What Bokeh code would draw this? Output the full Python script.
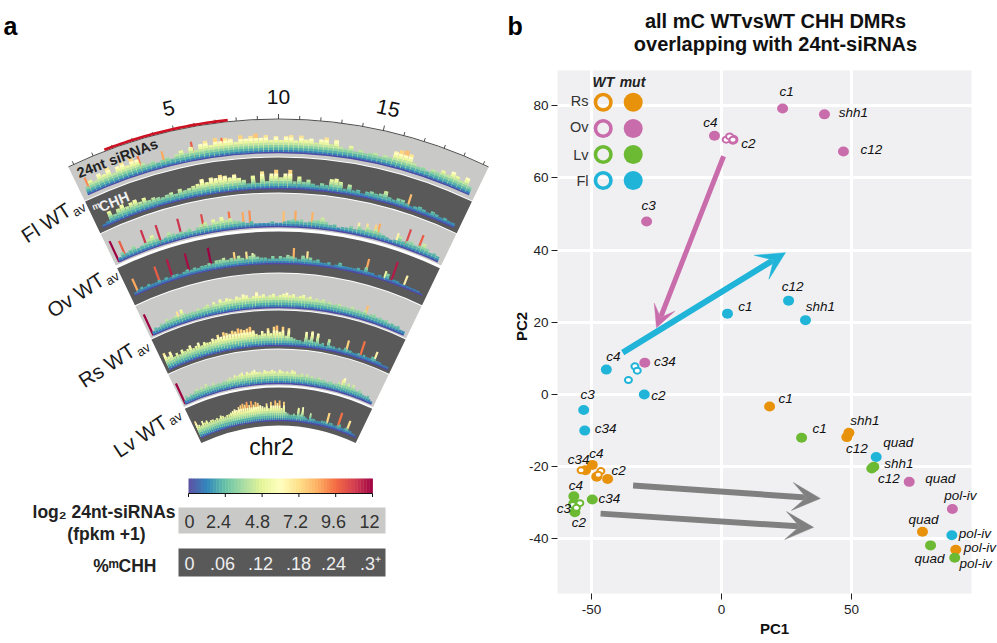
import math
import numpy as np
from bokeh.core.properties import value
from bokeh.embed import file_html
from bokeh.resources import INLINE
from bokeh.models import (Range1d, Label, LabelSet, ColumnDataSource, Arrow, VeeHead, LinearAxis, FixedTicker, Grid)
from bokeh.palettes import Spectral11
from bokeh.plotting import figure

FONT = "Liberation Sans"

# ---------------------------------------------------------------- panel a data
track_names = ["Fl WT", "Ov WT", "Rs WT", "Lv WT"]
chrom_ticks = list(range(0, 21))
chrom_tick_labels = [5, 10, 15]
highlight_mb = [1.6, 7.6]
scale_ticks = [0, 2.4, 4.8, 7.2, 9.6, 12]
sirna_labels = ["0", "2.4", "4.8", "7.2", "9.6", "12"]
mchh_labels = ["0", ".06", ".12", ".18", ".24", ".3\u207a"]

# level (0-12 on the colour scale) in successive quarter-megabase bins
fl_sirna = [3,5,4,6, 5,7,4,6, 7,5,7.5,6, 4,3,3.5,2.5, 3,3.5,2.5,4, 5,3.5,5.5,4, 6,7,5,7.5, 6,7,6.5,5,
            7.5,6,7,7.8, 6,7,5,6.5, 5,6.5,7,5, 7,5.5,6,4.5, 6,7,4.5,6.5, 4,3.5,5,3, 4,3,3.5,4, 3,4,3.5,6.5,
            7.5,8,7,4, 3,3.5,2.5,4, 3.5,5,4,6, 5,4,6,3]
fl_mchh = [1,1.5,5,3, 4.5,5.5,4,5, 5.5,4,5,3.5, 4,3.5,3,3.5, 4,3,4.5,3.5, 4,4.5,5,6.5, 5,6.5,6,7, 6.5,5.5,6.5,5,
           4,2.5,5.5,2.5, 7,3,6,7.5, 4.5,6,7.5,3, 5,3,4,2.5, 2,3,2.5,5, 5.5,4.5,2,4, 2,2.5,1.5,2.5, 3,2.5,3,4.5,
           2.5,2,3,3, 2,1.5,2,2.5, 2,1.5,2.5,2, 1.5,2,1.5,1.5]
ov_sirna = [1.5,3,2,2.5, 3.5,2,2.5,3, 4,5,3,2, 2.5,4,3,2.5, 3,2.5,3.5,2, 3,4,4.5,3, 5,4,5.5,4, 4.5,3.5,3,2.5,
            2,2.5,1.5,1.5, 1.5,1.5,2,1.5, 1.5,2,2.5,3, 2.5,3,2,2.5, 3,3.5,4.5,3, 2,2.5,1.5,2, 2,3,2,3.5, 2.5,4,3,4,
            3,2.5,2,1.5, 2,4,2.5,3, 3.5,2.5,3,4.5, 3,2,2.5,2]
ov_mchh = [1,1.5,2,1.5, 2,1.5,1.5,2, 1.5,2,1.5,2, 2,1.5,2,2.5, 2,2.5,2,2.5, 2.5,3,2.5,3.5, 3.5,4,3,3.5, 3,4,3,2.5,
           3.5,4,3,2.5, 2.5,2,3,2, 3,2.5,3.5,3, 2.5,2,3.5,2.5, 3,2,2.5,1.5, 1.5,2,1,1.5, 2.5,1.5,1.5,1.5, 1.5,2,1.5,3,
           1.5,1.5,1,1.5, 1,3,1,1.5, 1.5,1,1,1, 1,1,1,0.5]
rs_sirna = [1.5,2.5,2,3, 2.5,4,3,3.5, 4,3,5.5,3.5, 3,3.5,3,4, 3.5,4,4.5,3.5, 5,4,5.5,4.5, 5.5,5,4.5,5.5, 5,6,5.5,4.5,
            5,6.5,5,5.5, 4.5,5,5.5,4.5, 5,5.5,6,5, 5.5,4.5,5,5.5, 4.5,5,4,4.5, 4,4.5,3.5,4, 3,3.5,4,3, 3.5,3,4,3,
            3.5,3,4,2.5, 3,3.5,2.5,3, 2.5,3,2,2.5, 2,2.5,1.5,1.5]
rs_mchh = [7,5,6.5,4, 5,4,5.5,4.5, 5,6,4.5,5, 6,4.5,5.5,5, 5,6,5.5,7, 6,7.5,7,6.5, 7.5,7,8,7.5, 7,7.5,8,6.5,
           5,4.5,6,5, 7,5,7.5,8, 5.5,7.5,4,7, 3.5,3,2.5,2.5, 2,6,3,6.5, 2.5,6,2,2.5, 1.5,4.5,2,2, 1.5,2,1.5,2.5,
           2,2,1.5,1.5, 2,1.5,2,1.5, 1.5,2.5,2,1.5, 1.5,1,1,1]
lv_sirna = [1.5,3,2,3, 2.5,3.5,4,3, 4,3,4.5,3.5, 3,4,3,3.5, 3,3.5,3.5,4, 4.5,4,5,4.5, 5,5.5,4.5,5.5, 5,5.5,6,5,
            5,4.5,5.5,5, 5,5.5,5,4.5, 5.5,5,4.5,5, 4.5,5.5,5,4, 4,4.5,3.5,4.5, 3.5,4,3,3.5, 4,3,3.5,2.5, 3,3.5,2.5,3,
            4,3,6,3.5, 4.5,3,4.5,3, 2.5,3.5,2.5,2, 2,2.5,1.5,1]
lv_mchh = [7,5,4.5,6, 5,5.5,4.5,5, 5,4.5,5,4.5, 5.5,5,4.5,5, 5,5.5,6,6.5, 6,7,7.5,8, 7.5,8.5,7,8.5, 7,8,7.5,6.5,
           6,5.5,7,5, 7.5,6,8,7, 8,5,7.5,3.5, 3,2.5,2.5,3, 2.5,5.5,3,6, 2.5,2,1.5,4, 2,2,1.5,1.5, 1.5,2,2,2,
           1.5,2,2,1.5, 1.5,2,2.5,1.5, 1.5,2,2,1.5, 1.5,1,1,0.5]

# isolated tall bars: megabase position, level
fl_sirna_pos = [0.2, 3.0, 4.2, 5.7, 6.9, 7.2, 16.4]
fl_sirna_val = [9, 9.5, 8.5, 10, 9, 9.5, 8.5]
fl_mchh_pos = [15.9, 17.2]
fl_mchh_val = [5, 8]
ov_sirna_pos = [0.0, 0.5, 1.9, 2.8, 4.1, 5.5, 7.1, 7.9, 8.3, 10.3, 11.0, 12.0, 14.8, 15.3, 15.8, 16.0, 17.2, 17.8, 18.6]
ov_sirna_val = [12, 10, 11, 11, 11, 10.5, 9.5, 8.5, 9, 8, 8.5, 8.3, 6.5, 7, 7.5, 8.5, 6.5, 10.5, 10]
ov_mchh_pos = [0.3, 1.9, 2.8, 4.0, 5.5, 7.1, 7.9, 8.3, 11.0, 11.9, 15.9, 17.2, 17.7, 18.6]
ov_mchh_val = [8.5, 10, 11.5, 11.8, 12, 7.5, 7, 6, 8.3, 7, 8.5, 5, 11.5, 6.5]
rs_sirna_pos = [0.0, 2.3, 16.7]
rs_sirna_val = [12, 7, 8]
rs_mchh_pos = [16.0, 17.3, 18.6]
rs_mchh_val = [7.5, 9.5, 6.5]
lv_sirna_pos = [0.0, 16.5]
lv_sirna_val = [12, 7]
lv_mchh_pos = [16.0, 17.4, 18.6]
lv_mchh_val = [7.5, 9.5, 7]

# ---------------------------------------------------------------- panel b data
rs_mut_pc1 = [18.5, 49, 48.2, 77.3, 90.1, -52.3, -49.7, -43.8, -48]
rs_mut_pc2 = [-3.3, -10.6, -11.8, -38, -43, -21, -19.5, -23.4, -22.8]
rs_mut_names = ["c1", "shh1", "c12", "quad", "pol-iv", "c34", "c4", "c2", ""]
ov_mut_pc1 = [23.5, 39.6, 46.9, -2.7, 4.4, -28.8, -29.5, 72.2, 88.8]
ov_mut_pc2 = [79.2, 77.6, 67.3, 71.7, 70.6, 47.9, 8.8, -24.2, -31.7]
ov_mut_names = ["c1", "shh1", "c12", "c4", "c2", "c3", "c34", "quad", "pol-iv"]
fl_mut_pc1 = [2.3, 25.8, 32.3, -44.3, -29.7, -53, -52.6, 59.5, 88.6]
fl_mut_pc2 = [22.4, 26, 20.6, 6.9, 0, -4.3, -10, -17.3, -39]
fl_mut_names = ["c1", "c12", "shh1", "c4", "c2", "c3", "c34", "quad", "pol-iv"]
lv_mut_pc1 = [30.8, 58.6, 57.8, 80.4, 89.7, -49.7, -56.8, -56.8, -56.4]
lv_mut_pc2 = [-12, -20, -20.5, -41.8, -45.2, -29.1, -28.2, -30.2, -32.6]
lv_mut_names = ["c1", "shh1", "c12", "quad", "pol-iv", "c34", "c4", "c3", "c2"]

rs_wt_pc1 = [-54, -46.4, -47.4]
rs_wt_pc2 = [-21, -21.2, -22.2]
ov_wt_pc1 = [1.8, 3.1, 4.4]
ov_wt_pc2 = [70.6, 71.5, 70.6]
lv_wt_pc1 = [-54.5, -57.2, -55.8]
lv_wt_pc2 = [-30.1, -30.6, -31.4]
fl_wt_pc1 = [-33.3, -32.4, -35.8]
fl_wt_pc2 = [7.8, 6.6, 4]

pc1_ticks = [-50, 0, 50]
pc2_ticks = [-40, -20, 0, 20, 40, 60, 80]
legend_rows = ["Rs", "Ov", "Lv", "Fl"]

# ---------------------------------------------------------------- styling
ORANGE, PINK, GREEN, BLUE, GREY = "#E8920C", "#C96CAB", "#6CB933", "#1FB4D8", "#808080"
PANEL, LIGHT, DARK = "#F0F0F2", "#C9C9C7", "#595959"

W, H = 997, 642                 # the default ranges are page pixels, y negated
CX, CY = 278.0, -603.0
DEG_PER_MB, HALF_SPAN = 2.5, 25.7
BODY_PX, SPIKE_PX = 2.5, 1.9

# light, dark, light, ... : outer radius, inner radius, baseline radius
bands = [(484, 447, 451), (446, 411, 415), (410, 375, 377), (372, 331, 340),
         (330, 294, 296), (293, 255, 258), (254, 218, 220), (216, 178, 183)]
body_series = [fl_sirna, fl_mchh, ov_sirna, ov_mchh, rs_sirna, rs_mchh, lv_sirna, lv_mchh]
spike_series = [(fl_sirna_pos, fl_sirna_val), (fl_mchh_pos, fl_mchh_val),
                (ov_sirna_pos, ov_sirna_val), (ov_mchh_pos, ov_mchh_val),
                (rs_sirna_pos, rs_sirna_val), (rs_mchh_pos, rs_mchh_val),
                (lv_sirna_pos, lv_sirna_val), (lv_mchh_pos, lv_mchh_val)]

stops = [tuple(int(c[i:i + 2], 16) for i in (1, 3, 5)) for c in Spectral11]


def colour(level):
    t = max(0.0, min(1.0, level / 12.0)) * (len(stops) - 1)
    i = min(int(t), len(stops) - 2)
    f = t - i
    return "#%02x%02x%02x" % tuple(int(round(stops[i][k] + (stops[i + 1][k] - stops[i][k]) * f)) for k in range(3))


def polar(mb, r):
    a = math.radians((mb - 10) * DEG_PER_MB)
    return CX + r * math.sin(a), CY + r * math.cos(a)


p = figure(width=W, height=H, x_range=Range1d(0, W), y_range=Range1d(-H, 0), x_axis_type=None, y_axis_type=None,
           output_backend="svg", toolbar_location=None, min_border=0)
p.grid.visible = False
p.outline_line_color = None


def text(x, y, s, size, color="#222222", style="normal", align="left", base="alphabetic", angle=0):
    p.add_layout(Label(x=x, y=-y, text=s, text_font=FONT, text_font_size=f"{size}px", text_color=color,
                       text_font_style=style, text_align=align, text_baseline=base, angle=angle,
                       angle_units="deg"))


# ---------------------------------------------------------------- panel a
for i, (ro, ri, rb) in enumerate(bands):
    p.annular_wedge(x=[CX], y=[CY], inner_radius=[ri], outer_radius=[ro],
                    start_angle=[math.radians(90 - HALF_SPAN)], end_angle=[math.radians(90 + HALF_SPAN)],
                    fill_color=LIGHT if i % 2 == 0 else DARK, line_color=None)

for (ro, ri, rb), body, (sp, sv) in zip(bands, body_series, spike_series):
    sx0, sy0, sx1, sy1, sc = [], [], [], [], []
    for m, v in zip(sp, sv):
        a = polar(m, rb)
        b = polar(m, rb + v * SPIKE_PX)
        sx0.append(a[0]); sy0.append(a[1]); sx1.append(b[0]); sy1.append(b[1]); sc.append(colour(v))
    p.segment(sx0, sy0, sx1, sy1, line_color=sc, line_width=2.2)
    n = len(body)
    spacing = math.radians(DEG_PER_MB) * rb * 20 / n
    # each bar is painted from its full height down to its foot, shaded by the colour scale
    bx0, by0, bx1, by1, bc = [], [], [], [], []
    for j, v in enumerate(body):
        m = (j + 0.5) * 20 / n
        a = polar(m, rb)
        levels = [v] + [h for h in (6, 5, 4, 3, 2, 1) if h < v]
        for h in levels:
            b = polar(m, rb + h * BODY_PX)
            bx0.append(a[0]); by0.append(a[1]); bx1.append(b[0]); by1.append(b[1]); bc.append(colour(h))
    p.segment(bx0, by0, bx1, by1, line_color=bc, line_width=spacing * 0.9)
    p.arc(x=[CX], y=[CY], radius=[rb], start_angle=[math.radians(65)], end_angle=[math.radians(115)],
          line_color="#4F4AA6", line_width=1.3)

p.arc(x=[CX], y=[CY], radius=[484.5], start_angle=[math.radians(90 - HALF_SPAN)],
      end_angle=[math.radians(90 + HALF_SPAN)], line_color="#222222", line_width=0.8)
t0 = [polar(m, 484.5) for m in chrom_ticks]
t1 = [polar(m, 489.5 if m in chrom_tick_labels else 488) for m in chrom_ticks]
p.segment([a[0] for a in t0], [a[1] for a in t0], [b[0] for b in t1], [b[1] for b in t1],
          line_color="#222222", line_width=0.8)
red = [polar(highlight_mb[0] + k * (highlight_mb[1] - highlight_mb[0]) / 30, 486) for k in range(31)]
p.line([a[0] for a in red], [a[1] for a in red], line_color="#CC1122", line_width=2.6)

for m in chrom_tick_labels:
    x, y = polar(m, 507)
    text(x, -y, str(m), 21, "#111111", align="center", base="middle", angle=-(m - 10) * DEG_PER_MB)

text(77, 173, "24nt siRNAs", 14.5, "#222222", "bold", angle=21)
text(92, 207, "m", 9, "#F0F0F0", "bold", angle=22)
text(99, 207, "CHH", 14.5, "#F0F0F0", "bold", angle=22)

name_xy = [(22.7, 237), (48.3, 311.7), (80, 381.7), (115, 451.7)]
av_xy = [(72.7, 213), (106, 281.7), (137, 353), (169, 421.7)]
for nm, (x, y), (ax, ay) in zip(track_names, name_xy, av_xy):
    text(x, y, nm, 20.5, "#1A1A1A", angle=33)
    text(ax, ay, "av", 13, "#1A1A1A", angle=33)
text(271, 446, "chr2", 23, "#111111", align="center", base="middle")
text(3, 25, "a", 25, "#000000", "bold")

SC_X0, SC_W = 188.0, 184.0
lv_edges = np.linspace(0, 12, 61)
p.quad(left=[SC_X0 + SC_W * e / 12 for e in lv_edges[:-1]], right=[SC_X0 + SC_W * e / 12 + 0.4 for e in lv_edges[1:]],
       bottom=[-493] * 60, top=[-478] * 60, fill_color=[colour(e + 0.1) for e in lv_edges[:-1]], line_color=None)
p.line([SC_X0, SC_X0 + SC_W], [-493, -493], line_color="#111111", line_width=1)
tick_x = [SC_X0 + SC_W * t / 12 for t in scale_ticks]
p.segment(tick_x, [-493] * 6, tick_x, [-496.5] * 6, line_color="#111111", line_width=1)
p.quad(left=[178], right=[385], bottom=[-533], top=[-507], fill_color=LIGHT, line_color=None)
p.quad(left=[178], right=[385], bottom=[-576], top=[-548], fill_color=DARK, line_color=None)
for s, x in zip(sirna_labels, [189, 218, 257, 295, 333, 369]):
    text(x, 521, s, 18, "#333333", align="center", base="middle")
for s, x in zip(mchh_labels, [189, 222, 260, 298, 333, 370]):
    text(x, 563, s, 18, "#EEEEEE", align="center", base="middle")
text(175, 511, "log\u2082 24nt-siRNAs", 17.5, "#222222", "bold", align="right", base="middle")
text(106, 533, "(fpkm +1)", 17.5, "#222222", "bold", align="center", base="middle")
text(156, 565, "%\u1d50CHH", 17.5, "#222222", "bold", align="right", base="middle")

# ---------------------------------------------------------------- panel b
FR_L, FR_R, FR_T, FR_B = 557, 971, 70, 593
X0, XS, Y0, YS = 721.0, 2.6, 394.0, 3.61


def dx(px):
    return (px - X0) / XS


def dy(py):
    return (Y0 - py) / YS


p.extra_x_ranges = {"pc1": Range1d(dx(0), dx(W))}
p.extra_y_ranges = {"pc2": Range1d(dy(H), dy(0))}
R = dict(x_range_name="pc1", y_range_name="pc2")

p.quad(left=[FR_L], right=[FR_R], bottom=[-FR_B], top=[-FR_T], fill_color=PANEL, line_color=None, level="image")
p.add_layout(Grid(dimension=0, ticker=FixedTicker(ticks=pc1_ticks), bounds=(dy(FR_B), dy(FR_T)),
                  grid_line_color="white", grid_line_width=3, **R))
p.add_layout(Grid(dimension=1, ticker=FixedTicker(ticks=pc2_ticks), bounds=(dx(FR_L), dx(FR_R)),
                  grid_line_color="white", grid_line_width=3, **R))

xax = LinearAxis(fixed_location=dy(FR_B), ticker=FixedTicker(ticks=pc1_ticks), bounds=(dx(FR_L), dx(991)),
                 axis_label="PC1", major_label_overrides={-50: "-50"}, **R)
yax = LinearAxis(fixed_location=dx(FR_L), ticker=FixedTicker(ticks=pc2_ticks), bounds=(dy(FR_B), dy(59)),
                 axis_label="PC2", major_label_overrides={-40: "-40", -20: "-20"}, **R)
for ax in (xax, yax):
    ax.axis_line_color = None
    ax.major_tick_line_color = "#222222"
    ax.major_tick_out = 6
    ax.major_tick_in = 0
    ax.minor_tick_line_color = None
    ax.major_label_text_font = FONT
    ax.major_label_text_font_size = "13.5px"
    ax.major_label_text_color = "#222222"
    ax.axis_label_text_font = FONT
    ax.axis_label_text_font_size = "15px"
    ax.axis_label_text_font_style = "bold"
    ax.axis_label_text_color = "#111111"
xax.major_label_standoff = 5
yax.major_label_standoff = 3
xax.axis_label_standoff = 3
yax.axis_label_standoff = -4
p.add_layout(xax, "below")
p.add_layout(yax, "left")

pink_arrow = (0.8, 66, -25, 18.5)
blue_arrow = (-38, 11.6, 24.6, 39.3)
grey_arrow_a = (-34, -25.2, 38, -28.8)
grey_arrow_b = (-46.5, -33, 35.4, -36.8)
for (x0, y0, x1, y1), c, lw, sz in [(pink_arrow, PINK, 5, 22), (blue_arrow, BLUE, 6, 28),
                                    (grey_arrow_a, GREY, 6, 28), (grey_arrow_b, GREY, 6, 28)]:
    p.add_layout(Arrow(end=VeeHead(size=sz, fill_color=c, line_color=c, line_width=0.5),
                       x_start=x0, y_start=y0, x_end=x1, y_end=y1, line_color=c, line_width=lw, **R))

rs_off = [(16, 8), (16, 12), (10, -11), (1, 12), (24, 2), (-7, 11), (4, 11), (11, 8), (0, 0)]
ov_off = [(4, 17), (29, 2), (28, 2), (-4, 13), (15.5, -4), (2, 16), (20, 1), (31, 3), (8, 13)]
fl_off = [(18, 7), (4, 14), (15, 14), (7, 13), (14, -1), (4, 16), (21, 2), (22, 14), (23, 2)]
lv_off = [(18, 9), (25, 3), (17, -10), (-1, -13), (21, -6), (17, 1), (2, 11), (-10, -5), (4, -10)]

series = [(rs_mut_pc1, rs_mut_pc2, rs_mut_names, rs_off, rs_wt_pc1, rs_wt_pc2, ORANGE),
          (fl_mut_pc1, fl_mut_pc2, fl_mut_names, fl_off, fl_wt_pc1, fl_wt_pc2, BLUE),
          (lv_mut_pc1, lv_mut_pc2, lv_mut_names, lv_off, lv_wt_pc1, lv_wt_pc2, GREEN),
          (ov_mut_pc1, ov_mut_pc2, ov_mut_names, ov_off, ov_wt_pc1, ov_wt_pc2, PINK)]
for xs, ys, names, off, wx, wy, c in series:
    p.ellipse(xs, ys, width=11, height=10, width_units="screen", height_units="screen",
              fill_color=c, line_color=None, **R)
    p.ellipse(wx, wy, width=7, height=6, width_units="screen", height_units="screen",
              fill_color="white", line_color=c, line_width=2, **R)
    keep = [k for k, s in enumerate(names) if s]
    src = ColumnDataSource(dict(x=[xs[k] for k in keep], y=[ys[k] for k in keep], t=[names[k] for k in keep],
                                ox=[off[k][0] for k in keep], oy=[off[k][1] for k in keep]))
    p.add_layout(LabelSet(x="x", y="y", text="t", x_offset="ox", y_offset="oy", source=src,
                          text_font=value(FONT), text_font_style="italic", text_font_size="13.5px",
                          text_color="#111111", text_align="center", text_baseline="middle", **R))

legend_y = [101.7, 128, 154, 180]
ring_col = [ORANGE, PINK, GREEN, BLUE]
p.scatter([602.7] * 4, [-v for v in legend_y], size=15.5, fill_color=None, line_color=ring_col, line_width=3.6)
p.scatter([632.7] * 4, [-v for v in legend_y], size=19, fill_color=ring_col, line_color=None)
for s, y in zip(legend_rows, [100.7, 126.7, 154, 180]):
    text(588, y, s, 14.5, "#333333", align="right", base="middle")
text(603, 81, "WT", 14, "#222222", "bold italic", align="center", base="middle")
text(632, 81, "mut", 14, "#222222", "bold italic", align="center", base="middle")

text(507, 25, "b", 25, "#000000", "bold")
text(775, 20, "all mC WTvsWT CHH DMRs", 20, "#111111", "bold", align="center", base="middle")
text(775, 43, "overlapping with 24nt-siRNAs", 20, "#111111", "bold", align="center", base="middle")

open("out.html", "w").write(file_html(p, INLINE))
